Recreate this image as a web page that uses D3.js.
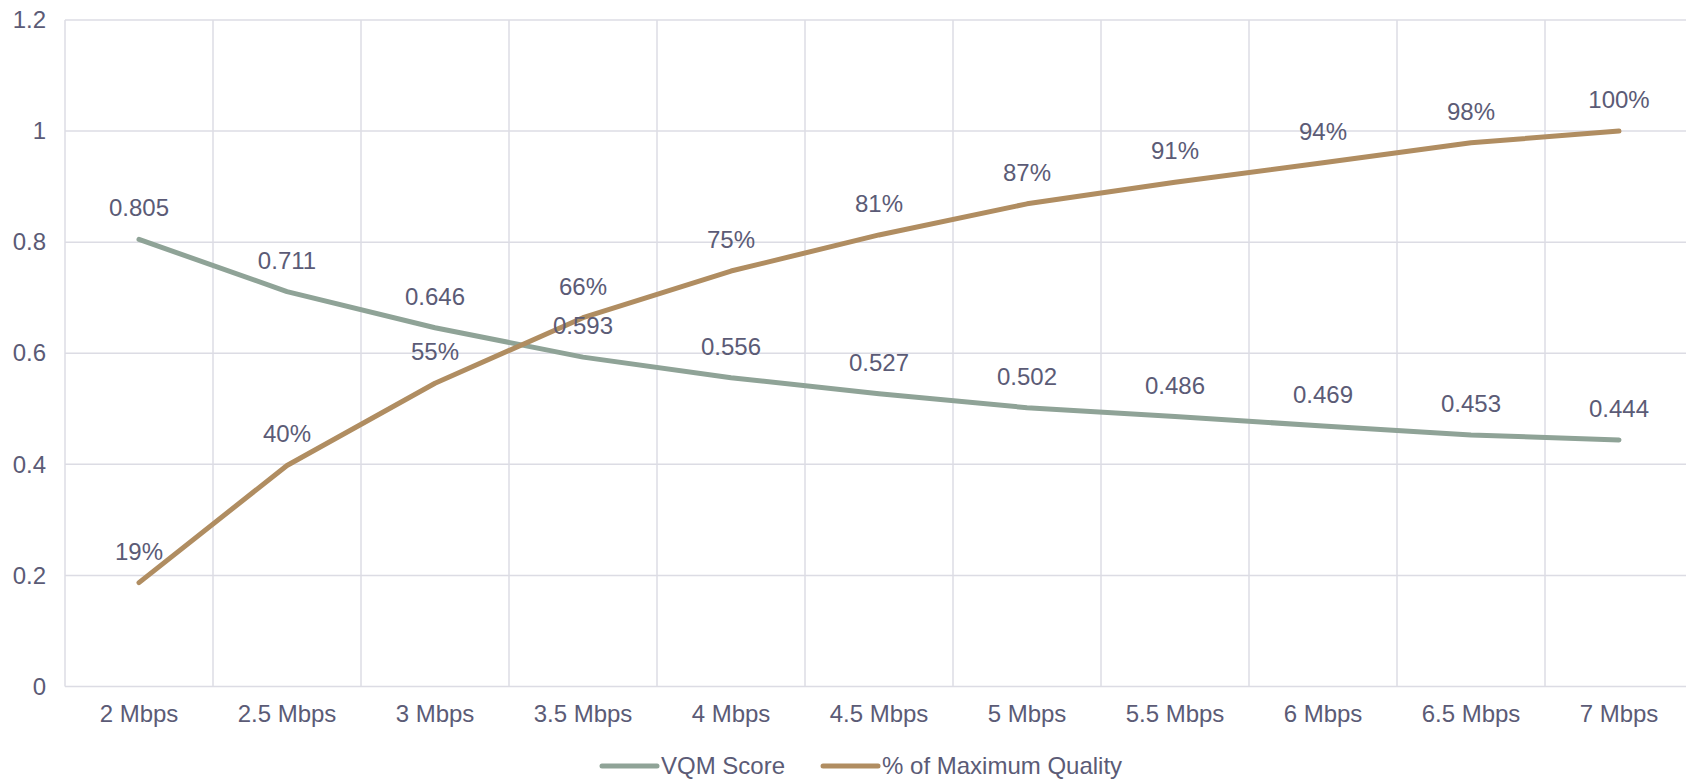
<!DOCTYPE html>
<html>
<head>
<meta charset="utf-8">
<script src="https://cdn.jsdelivr.net/npm/d3@7"></script>
<style>
  body { margin: 0; background: #fff; }
  svg { display: block; font-family: "Liberation Sans", Arial, sans-serif; }
</style>
</head>
<body>
<div id="chart"></div>
<script>
// bitrate categories and the two series (both plotted on the 0-1.2 axis)
var categories = ['2 Mbps', '2.5 Mbps', '3 Mbps', '3.5 Mbps', '4 Mbps', '4.5 Mbps',
  '5 Mbps', '5.5 Mbps', '6 Mbps', '6.5 Mbps', '7 Mbps'];
var vqmScore = [0.805, 0.711, 0.646, 0.593, 0.556, 0.527, 0.502, 0.486, 0.469, 0.453, 0.444];
var pctMaxQuality = [0.187, 0.398, 0.546, 0.664, 0.748, 0.813, 0.869, 0.908, 0.943, 0.979, 1.0];
var yTicks = [0, 0.2, 0.4, 0.6, 0.8, 1, 1.2];

var W = 1686, H = 780;
var LEFT = 65, TOP = 20, BOTTOM = 686.5, BAND = 148;
var TEXT = '#5b5b76';
var GRID = '#dcdce4';
var FONT = '24px';

var series = [
  { name: 'VQM Score', values: vqmScore, color: '#8fa397', fmt: d3.format('.3~f') },
  { name: '% of Maximum Quality', values: pctMaxQuality, color: '#b08d61', fmt: d3.format('.0%') }
];

var svg = d3.select('#chart').append('svg')
  .attr('width', W)
  .attr('height', H);

var x = d3.scaleBand()
  .domain(categories)
  .range([LEFT, LEFT + BAND * categories.length]);

var y = d3.scaleLinear()
  .domain([0, 1.2])
  .range([BOTTOM, TOP]);

// horizontal gridlines
svg.append('g')
  .selectAll('line')
  .data(yTicks)
  .join('line')
  .attr('x1', LEFT)
  .attr('x2', x.range()[1])
  .attr('y1', function(d) { return y(d); })
  .attr('y2', function(d) { return y(d); })
  .attr('stroke', GRID)
  .attr('stroke-width', 1.5);

// vertical gridlines at category boundaries
svg.append('g')
  .selectAll('line')
  .data(categories)
  .join('line')
  .attr('x1', function(d) { return x(d); })
  .attr('x2', function(d) { return x(d); })
  .attr('y1', TOP)
  .attr('y2', BOTTOM)
  .attr('stroke', GRID)
  .attr('stroke-width', 1.5);

// y axis labels
var yAxis = svg.append('g')
  .attr('transform', 'translate(' + (LEFT - 19) + ',0)')
  .call(d3.axisLeft(y).tickValues(yTicks).tickSize(0).tickPadding(0).tickFormat(d3.format('~g')));
yAxis.select('.domain').remove();
yAxis.selectAll('text')
  .attr('fill', TEXT)
  .attr('font-size', FONT)
  .attr('font-family', '"Liberation Sans", Arial, sans-serif');

// x axis labels
var xAxis = svg.append('g')
  .attr('transform', 'translate(0,' + BOTTOM + ')')
  .call(d3.axisBottom(x).tickSize(0).tickPadding(18));
xAxis.select('.domain').remove();
xAxis.selectAll('text')
  .attr('fill', TEXT)
  .attr('font-size', FONT)
  .attr('font-family', '"Liberation Sans", Arial, sans-serif');

var line = d3.line()
  .x(function(d, i) { return x(categories[i]) + x.bandwidth() / 2; })
  .y(function(d) { return y(d); });

series.forEach(function(s) {
  svg.append('path')
    .datum(s.values)
    .attr('d', line)
    .attr('fill', 'none')
    .attr('stroke', s.color)
    .attr('stroke-width', 5)
    .attr('stroke-linecap', 'round')
    .attr('stroke-linejoin', 'round');
});

// data labels
series.forEach(function(s) {
  svg.append('g')
    .selectAll('text')
    .data(s.values)
    .join('text')
    .attr('x', function(d, i) { return x(categories[i]) + x.bandwidth() / 2; })
    .attr('y', function(d) { return y(d) - 23; })
    .attr('text-anchor', 'middle')
    .attr('fill', TEXT)
    .attr('font-size', FONT)
    .text(function(d) { return s.fmt(d); });
});

// legend
var legend = svg.append('g').attr('transform', 'translate(0,766)');
var lx = 602;
series.forEach(function(s) {
  legend.append('line')
    .attr('x1', lx).attr('x2', lx + 55)
    .attr('y1', 0).attr('y2', 0)
    .attr('stroke', s.color)
    .attr('stroke-width', 5)
    .attr('stroke-linecap', 'round');
  var t = legend.append('text')
    .attr('x', lx + 59)
    .attr('y', 0)
    .attr('dy', '0.35em')
    .attr('fill', TEXT)
    .attr('font-size', FONT)
    .text(s.name);
  lx = lx + 59 + t.node().getComputedTextLength() + 38;
});
</script>
</body>
</html>
